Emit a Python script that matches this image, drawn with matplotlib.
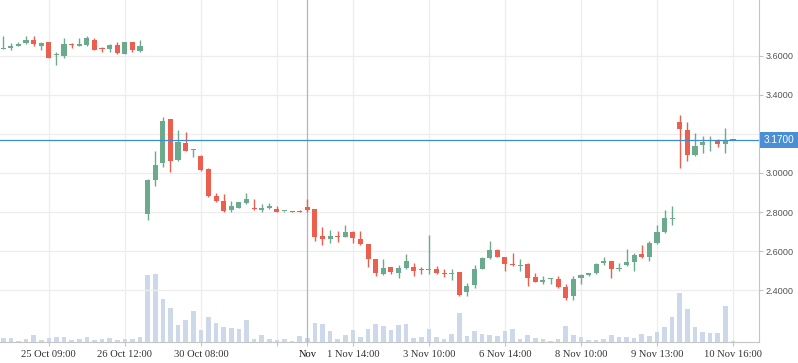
import matplotlib
matplotlib.use("Agg")
import matplotlib.pyplot as plt
import matplotlib.transforms as mtransforms
from matplotlib.ticker import FixedLocator, FixedFormatter

# OHLC per candle (index = bar number on the time axis)
opens = [3.634, 3.641, 3.651, 3.665, 3.681, 3.650, 3.670, 3.602, 3.601, 3.658,
         3.652, 3.657, 3.681, 3.635, 3.635, 3.653, 3.611, 3.670, 3.624, 2.788,
         2.966, 3.049, 3.274, 3.068, 3.152, 3.117, 3.089, 3.021, 2.880, 2.854,
         2.810, 2.820, 2.845, 2.820, 2.810, 2.822, 2.818, 2.803, 2.805, 2.805,
         2.827, 2.813, 2.676, 2.662, 2.676, 2.672, 2.696, 2.660, 2.635, 2.558,
         2.483, 2.517, 2.488, 2.512, 2.517, 2.505, 2.503, 2.507, 2.485, 2.483,
         2.492, 2.391, 2.427, 2.507, 2.563, 2.604, 2.568, 2.530, 2.525, 2.533,
         2.466, 2.444, 2.456, 2.456, 2.415, 2.369, 2.461, 2.480, 2.487, 2.538,
         2.548, 2.510, 2.528, 2.543, 2.584, 2.568, 2.640, 2.696, 2.765, 3.262,
         3.221, 3.090, 3.141, 3.163, 3.170, 3.146, 3.171]
highs = [3.701, 3.664, 3.669, 3.703, 3.703, 3.670, 3.672, 3.619, 3.691, 3.664,
         3.691, 3.701, 3.691, 3.646, 3.660, 3.670, 3.670, 3.670, 3.681, 2.971,
         3.111, 3.288, 3.274, 3.221, 3.211, 3.121, 3.090, 3.024, 2.898, 2.890,
         2.859, 2.849, 2.898, 2.869, 2.839, 2.847, 2.829, 2.806, 2.807, 2.808,
         2.869, 2.818, 2.721, 2.706, 2.701, 2.732, 2.701, 2.701, 2.636, 2.560,
         2.558, 2.519, 2.528, 2.584, 2.538, 2.517, 2.681, 2.522, 2.507, 2.507,
         2.494, 2.439, 2.528, 2.568, 2.650, 2.609, 2.570, 2.589, 2.558, 2.538,
         2.487, 2.471, 2.462, 2.471, 2.430, 2.471, 2.482, 2.487, 2.538, 2.568,
         2.548, 2.538, 2.609, 2.589, 2.630, 2.650, 2.732, 2.808, 2.829, 3.294,
         3.262, 3.206, 3.191, 3.191, 3.172, 3.232, 3.172]
lows = [3.633, 3.631, 3.650, 3.660, 3.651, 3.629, 3.588, 3.553, 3.590, 3.641,
        3.650, 3.651, 3.629, 3.621, 3.621, 3.611, 3.611, 3.619, 3.621, 2.759,
        2.932, 3.029, 3.004, 3.060, 3.111, 3.080, 3.011, 2.877, 2.851, 2.800,
        2.800, 2.820, 2.840, 2.812, 2.800, 2.817, 2.800, 2.800, 2.799, 2.800,
        2.800, 2.652, 2.631, 2.641, 2.648, 2.670, 2.641, 2.631, 2.519, 2.473,
        2.480, 2.483, 2.463, 2.510, 2.473, 2.483, 2.483, 2.483, 2.468, 2.453,
        2.371, 2.369, 2.412, 2.507, 2.558, 2.568, 2.497, 2.525, 2.497, 2.420,
        2.440, 2.430, 2.430, 2.412, 2.349, 2.349, 2.430, 2.471, 2.482, 2.528,
        2.461, 2.497, 2.522, 2.497, 2.563, 2.548, 2.635, 2.691, 2.732, 3.027,
        3.060, 3.088, 3.100, 3.111, 3.131, 3.100, 3.169]
closes = [3.637, 3.651, 3.662, 3.681, 3.662, 3.665, 3.590, 3.611, 3.660, 3.655,
          3.654, 3.691, 3.631, 3.633, 3.653, 3.616, 3.670, 3.631, 3.650, 2.966,
          3.043, 3.267, 3.060, 3.157, 3.111, 3.120, 3.017, 2.881, 2.856, 2.805,
          2.829, 2.849, 2.869, 2.815, 2.823, 2.829, 2.800, 2.805, 2.800, 2.800,
          2.810, 2.672, 2.662, 2.676, 2.673, 2.696, 2.667, 2.636, 2.560, 2.488,
          2.512, 2.493, 2.512, 2.548, 2.499, 2.503, 2.507, 2.488, 2.482, 2.490,
          2.374, 2.424, 2.507, 2.563, 2.604, 2.568, 2.533, 2.527, 2.530, 2.463,
          2.441, 2.448, 2.459, 2.415, 2.359, 2.456, 2.477, 2.483, 2.533, 2.548,
          2.507, 2.514, 2.543, 2.579, 2.568, 2.640, 2.696, 2.767, 2.768, 3.227,
          3.090, 3.140, 3.160, 3.170, 3.146, 3.170, 3.170]
volumes = [43, 43, 7, 33, 73, 17, 43, 53, 53, 17, 33, 53, 23, 33, 43, 23, 33, 33, 53,
           673, 683, 433, 343, 173, 223, 313, 123, 253, 193, 153, 143, 133, 223, 33,
           73, 33, 23, 33, 13, 63, 43, 193, 183, 113, 33, 73, 123, 53, 133, 183, 163,
           123, 173, 183, 43, 53, 133, 53, 33, 83, 293, 63, 113, 83, 73, 63, 113, 133,
           33, 73, 43, 33, 13, 33, 163, 73, 53, 23, 23, 33, 73, 53, 53, 43, 83, 63,
           103, 153, 253, 493, 333, 153, 103, 93, 93, 363, 13]

tick_idx = [6, 16, 26, 36, 46, 56, 66, 76, 86, 96]
tick_labels = ["25 Oct 09:00", "26 Oct 12:00", "30 Oct 08:00", "", "1 Nov 14:00",
               "3 Nov 10:00", "6 Nov 14:00", "8 Nov 10:00", "9 Nov 13:00", "10 Nov 16:00"]
price_ticks = [2.4, 2.6, 2.8, 3.0, 3.2, 3.4, 3.6]
# 3.2000 sits under the last-price tag, so it is not shown
price_labels = ["2.4000", "2.6000", "2.8000", "3.0000", "", "3.4000", "3.6000"]
last_price = 3.17
cursor_idx = 40
cursor_label = "Nov"

GREEN = "#6baa8c"
RED = "#ec5f4e"
GRID = "#ededed"
AXIS = "#c4c4c4"

fig = plt.figure(figsize=(7.98, 3.63), dpi=100)
rect = [0, 21 / 363, 759 / 798, 342 / 363]

# volume in the background
axv = fig.add_axes(rect)
x = list(range(len(opens)))
axv.bar(x, volumes, width=0.6, color="#cdd9ea", zorder=1)
axv.set_ylim(0, max(volumes) * 5.0)
axv.set_xlim(-0.43, 99.43)
axv.set_yticks([])
axv.xaxis.set_major_locator(FixedLocator(tick_idx))
axv.xaxis.set_major_formatter(FixedFormatter(tick_labels))
axv.xaxis.set_minor_locator(FixedLocator([cursor_idx]))
axv.xaxis.set_minor_formatter(FixedFormatter([cursor_label]))
axv.tick_params(axis="x", which="major", length=3, color=AXIS, pad=3,
                labelsize=7.6, labelcolor="#333333")
axv.tick_params(axis="x", which="minor", length=3, color="#b5b5b5", pad=3,
                labelsize=7.6, labelcolor="#111111")
for lab in axv.get_xticklabels(which="both"):
    lab.set_fontfamily("Liberation Serif")
axv.grid(axis="x", which="major", color=GRID, lw=0.9, zorder=0)
axv.set_axisbelow(True)
for s in ["top", "left", "right"]:
    axv.spines[s].set_visible(False)
axv.spines["bottom"].set_color(AXIS)

# price candles on top
ax = fig.add_axes(rect, sharex=axv)
ax.patch.set_visible(False)
ax.set_ylim(2.135, 3.885)
ax.yaxis.tick_right()
ax.yaxis.set_major_locator(FixedLocator(price_ticks))
ax.yaxis.set_major_formatter(FixedFormatter(price_labels))
ax.tick_params(axis="y", length=3, color=AXIS, labelsize=6.6, labelcolor="#555555",
               pad=1.5)
ax.tick_params(axis="x", which="both", bottom=False, labelbottom=False)
for lab in ax.get_yticklabels():
    lab.set_fontfamily("Liberation Sans")
ax.grid(axis="y", color=GRID, lw=0.9)
for s in ["top", "left", "bottom"]:
    ax.spines[s].set_visible(False)
ax.spines["right"].set_color(AXIS)

for i in x:
    o, h, l, c = opens[i], highs[i], lows[i], closes[i]
    col = GREEN if c >= o else RED
    ax.vlines(i, l, h, color=col, lw=1.0, zorder=3)
    lo = min(o, c)
    hgt = max(abs(c - o), 0.006)
    ax.bar(i, hgt, bottom=lo, width=0.68, color=col, zorder=4)

# crosshair
ax.axvline(cursor_idx, color="#b5b5b5", lw=0.9, zorder=2)

# last price line + label
ax.axhline(last_price, color="#3f8bd0", lw=0.9, zorder=5)
trans_y = mtransforms.blended_transform_factory(ax.transAxes, ax.transData)
ax.text(1.006, last_price, f"{last_price:.4f}", transform=trans_y, ha="left", va="center",
        fontfamily="Liberation Sans", fontsize=7.2, color="white", zorder=6,
        bbox=dict(boxstyle="square,pad=0.32", fc="#4a8fd6", ec="none"))

fig.savefig("out.png", dpi=100)
